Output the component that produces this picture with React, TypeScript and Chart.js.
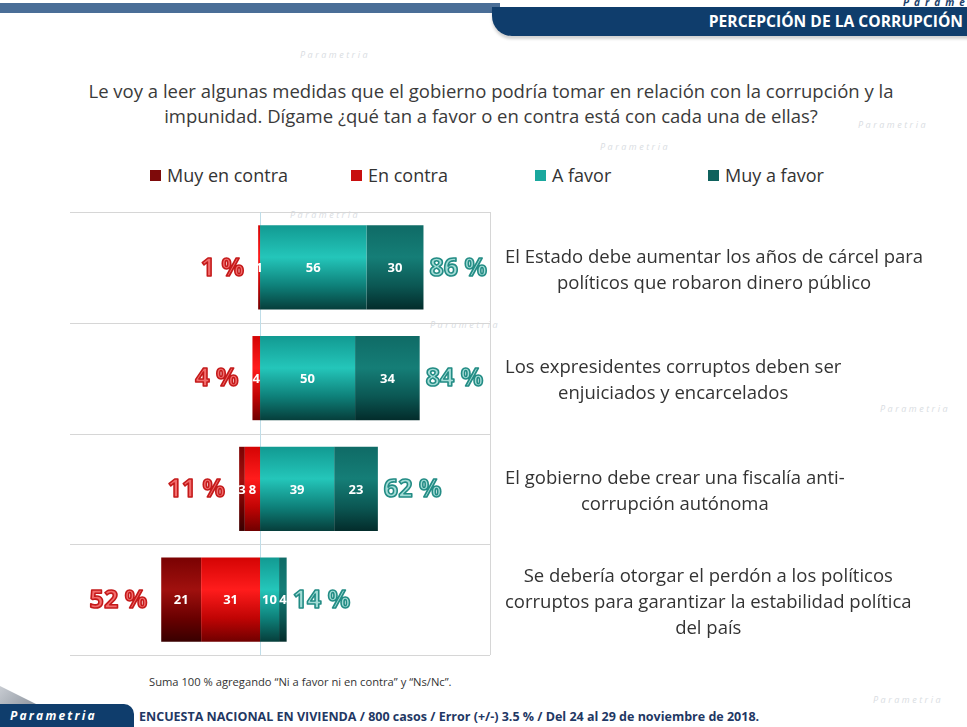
import React, { useEffect, useRef } from "react";
import { Chart, registerables } from "chart.js";
Chart.register(...registerables);

const categories: string[][] = [
  ["El Estado debe aumentar los años de cárcel para", "políticos que robaron dinero público"],
  ["Los expresidentes corruptos deben ser", "enjuiciados y encarcelados"],
  ["El gobierno debe crear una fiscalía anti-", "corrupción autónoma"],
  ["Se debería otorgar el perdón a los políticos", "corruptos para garantizar la estabilidad política", "del país"],
];
const seriesNames = ["Muy en contra", "En contra", "A favor", "Muy a favor"];
const muyEnContra = [0, 0, 3, 21];
const enContra = [1, 4, 8, 31];
const aFavor = [56, 50, 39, 10];
const muyAFavor = [30, 34, 23, 4];
const totalContra = [1, 4, 11, 52];
const totalFavor = [86, 84, 62, 14];

const legendColors = ["#7e0a0a", "#c80f0f", "#1aa89e", "#0f615d"];
const gradStops: string[][] = [
  ["#7a0202", "#a0100e", "#6a0000", "#380000"],
  ["#d40404", "#ff1c1c", "#c00404", "#700000"],
  ["#129a92", "#24c6ba", "#0e8079", "#063e3b"],
  ["#0f6b66", "#157e77", "#0b5753", "#032c2b"],
];
const BAR_PCT = 0.76;
const FONT = '"Open Sans", "DejaVu Sans", sans-serif';

function gradient(stops: string[]) {
  return (ctx: any) => {
    const chart = ctx.chart;
    const y = chart.scales && chart.scales.y;
    const i = ctx.dataIndex;
    if (!y || !chart.chartArea || typeof i !== "number") return stops[1];
    const c = y.getPixelForValue(i);
    const band = (chart.chartArea.bottom - chart.chartArea.top) / categories.length;
    const half = (band * BAR_PCT) / 2;
    if (!isFinite(c)) return stops[1];
    const g = chart.ctx.createLinearGradient(0, c - half, 0, c + half);
    g.addColorStop(0, stops[0]);
    g.addColorStop(0.38, stops[1]);
    g.addColorStop(0.72, stops[2]);
    g.addColorStop(1, stops[3]);
    return g;
  };
}

const gridPlugin = {
  id: "gridPlugin",
  beforeDatasetsDraw(chart: any) {
    const { ctx, chartArea, scales } = chart;
    const y = scales.y;
    const x = scales.x;
    const band = y.getPixelForValue(1) - y.getPixelForValue(0);
    ctx.save();
    ctx.strokeStyle = "#d6d6d6";
    ctx.lineWidth = 1;
    for (let i = 0; i <= categories.length; i++) {
      const py = Math.round(y.getPixelForValue(i) - band / 2) + 0.5;
      ctx.beginPath();
      ctx.moveTo(chartArea.left, py);
      ctx.lineTo(chartArea.right, py);
      ctx.stroke();
    }
    ctx.beginPath();
    ctx.moveTo(Math.round(chartArea.right) + 0.5, chartArea.top);
    ctx.lineTo(Math.round(chartArea.right) + 0.5, chartArea.bottom);
    ctx.stroke();
    ctx.strokeStyle = "#bfdde8";
    const zx = Math.round(x.getPixelForValue(0)) + 0.5;
    ctx.beginPath();
    ctx.moveTo(zx, chartArea.top);
    ctx.lineTo(zx, chartArea.bottom);
    ctx.stroke();
    ctx.restore();
  },
};

const labelPlugin = {
  id: "labelPlugin",
  afterDatasetsDraw(chart: any) {
    const { ctx, chartArea, scales } = chart;
    const y = scales.y;
    const x = scales.x;
    ctx.save();
    ctx.font = `bold 13px ${FONT}`;
    ctx.fillStyle = "#ffffff";
    ctx.textAlign = "center";
    ctx.textBaseline = "middle";
    chart.data.datasets.forEach((ds: any, di: number) => {
      const meta = chart.getDatasetMeta(di);
      meta.data.forEach((el: any, i: number) => {
        const v = Math.abs(ds.data[i]);
        if (!v) return;
        const cx = (el.x + el.base) / 2;
        ctx.fillText(String(v), cx, el.y + 1);
      });
    });
    ctx.font = `bold 25px ${FONT}`;
    ctx.lineWidth = 1.6;
    ctx.lineJoin = "round";
    for (let i = 0; i < categories.length; i++) {
      const cy = y.getPixelForValue(i) + 1;
      const lx = x.getPixelForValue(-totalContra[i]) - 14;
      ctx.textAlign = "right";
      ctx.fillStyle = "#f26c6c";
      ctx.strokeStyle = "#c41a1a";
      ctx.fillText(totalContra[i] + " %", lx, cy);
      ctx.strokeText(totalContra[i] + " %", lx, cy);
      const rx = x.getPixelForValue(totalFavor[i]) + 6;
      ctx.textAlign = "left";
      ctx.fillStyle = "#a3dcd6";
      ctx.strokeStyle = "#238c85";
      ctx.fillText(totalFavor[i] + " %", rx, cy);
      ctx.strokeText(totalFavor[i] + " %", rx, cy);
    }
    ctx.font = `18.5px ${FONT}`;
    ctx.fillStyle = "#333333";
    ctx.textAlign = "center";
    const lh = 26;
    for (let i = 0; i < categories.length; i++) {
      const lines = categories[i];
      const maxW = Math.max(...lines.map((l) => ctx.measureText(l).width));
      const cx = chartArea.right + 15 + maxW / 2;
      const cy = y.getPixelForValue(i) + 3;
      lines.forEach((l, k) => {
        ctx.fillText(l, cx, cy + (k - (lines.length - 1) / 2) * lh);
      });
    }
    ctx.restore();
  },
};

function ChartCanvas() {
  const ref = useRef<HTMLCanvasElement | null>(null);
  useEffect(() => {
    if (!ref.current) return;
    const chart = new Chart(ref.current, {
      type: "bar",
      data: {
        labels: categories.map((c) => c.join(" ")),
        datasets: [
          { label: seriesNames[1], data: enContra.map((v) => -v), backgroundColor: gradient(gradStops[1]) as any, stack: "s" },
          { label: seriesNames[0], data: muyEnContra.map((v) => -v), backgroundColor: gradient(gradStops[0]) as any, stack: "s" },
          { label: seriesNames[2], data: aFavor, backgroundColor: gradient(gradStops[2]) as any, stack: "s" },
          { label: seriesNames[3], data: muyAFavor, backgroundColor: gradient(gradStops[3]) as any, stack: "s" },
        ],
      },
      options: {
        indexAxis: "y",
        responsive: false,
        maintainAspectRatio: false,
        animation: false,
        layout: { padding: { left: 70, right: 477, top: 17, bottom: 15 } },
        datasets: { bar: { categoryPercentage: 1, barPercentage: BAR_PCT } },
        scales: {
          x: { display: false, stacked: true, min: -100, max: 121 },
          y: { display: false, stacked: true },
        },
        plugins: { legend: { display: false }, tooltip: { enabled: false } },
      },
      plugins: [gridPlugin, labelPlugin],
    });
    return () => chart.destroy();
  }, []);
  return (
    <canvas
      ref={ref}
      width={967}
      height={475}
      style={{ position: "absolute", left: 0, top: 195, width: 967, height: 475 }}
    />
  );
}

const watermarks = [
  { x: 858, y: 118 },
  { x: 880, y: 402 },
  { x: 873, y: 693 },
  { x: 290, y: 208 },
  { x: 430, y: 318 },
  { x: 300, y: 48 },
  { x: 600, y: 140 },
];

export default function App() {
  const legendPos = [150, 351, 535, 708];
  return (
    <div style={{ position: "absolute", left: 0, top: 0, width: 967, height: 727, overflow: "hidden", background: "#ffffff", fontFamily: FONT }}>
      {watermarks.map((w, i) => (
        <div key={i} style={{ position: "absolute", left: w.x, top: w.y, fontSize: 9, fontStyle: "italic", color: "#d9dde2", letterSpacing: 2.5, whiteSpace: "nowrap" }}>Parametria</div>
      ))}
      <div style={{ position: "absolute", left: 0, top: 3, width: 500, height: 10, background: "#2a5585", opacity: 0.85 }} />
      <div style={{ position: "absolute", left: 903, top: -5, fontSize: 10, fontStyle: "italic", fontWeight: 700, color: "#1b3f6b", letterSpacing: 5, whiteSpace: "nowrap" }}>Parametria</div>
      <div style={{ position: "absolute", left: 492, top: 7, width: 480, height: 29, background: "#0f3d6c", borderBottomLeftRadius: 20, boxShadow: "0 3px 3px rgba(0,0,0,0.18)" }} />
      <div style={{ position: "absolute", left: 650, top: 7, width: 313, height: 29, lineHeight: "29px", textAlign: "right", color: "#ffffff", fontWeight: 700, fontSize: 15.6, whiteSpace: "nowrap" }}>PERCEPCIÓN DE LA CORRUPCIÓN</div>
      <div style={{ position: "absolute", left: 0, top: 78, width: 982, textAlign: "center", color: "#3a3a3a", fontSize: 18.5, lineHeight: "25px", whiteSpace: "nowrap" }}>
        Le voy a leer algunas medidas que el gobierno podría tomar en relación con la corrupción y la
        <br />
        impunidad. Dígame ¿qué tan a favor o en contra está con cada una de ellas?
      </div>
      {seriesNames.map((n, i) => (
        <div key={n} style={{ position: "absolute", left: legendPos[i], top: 162, height: 26, display: "flex", alignItems: "center", whiteSpace: "nowrap", color: "#333333", fontSize: 18 }}>
          <span style={{ display: "inline-block", width: 11, height: 11, background: legendColors[i], marginRight: 6, flex: "none" }} />
          {n}
        </div>
      ))}
      <ChartCanvas />
      <div style={{ position: "absolute", left: 149, top: 674, fontSize: 11.2, lineHeight: "15px", color: "#333333", whiteSpace: "nowrap" }}>
        Suma 100 % agregando “Ni a favor ni en contra” y “Ns/Nc”.
      </div>
      <div style={{ position: "absolute", left: 0, top: 686, width: 40, height: 20, background: "linear-gradient(135deg, #c8ccd2, #8a929c)", clipPath: "polygon(0 0, 100% 100%, 0 100%)" }} />
      <div style={{ position: "absolute", left: 0, top: 704, width: 134, height: 24, background: "#0f3d6c", borderTopRightRadius: 10 }} />
      <div style={{ position: "absolute", left: 10, top: 704, height: 24, lineHeight: "24px", color: "#ffffff", fontStyle: "italic", fontWeight: 700, fontSize: 12, letterSpacing: 2.2, whiteSpace: "nowrap" }}>Parametria</div>
      <div style={{ position: "absolute", left: 139, top: 707, height: 20, lineHeight: "20px", color: "#1f3864", fontWeight: 700, fontSize: 12.5, whiteSpace: "nowrap" }}>
        ENCUESTA NACIONAL EN VIVIENDA / 800 casos / Error (+/-) 3.5 % / Del 24 al 29 de noviembre de 2018.
      </div>
    </div>
  );
}
